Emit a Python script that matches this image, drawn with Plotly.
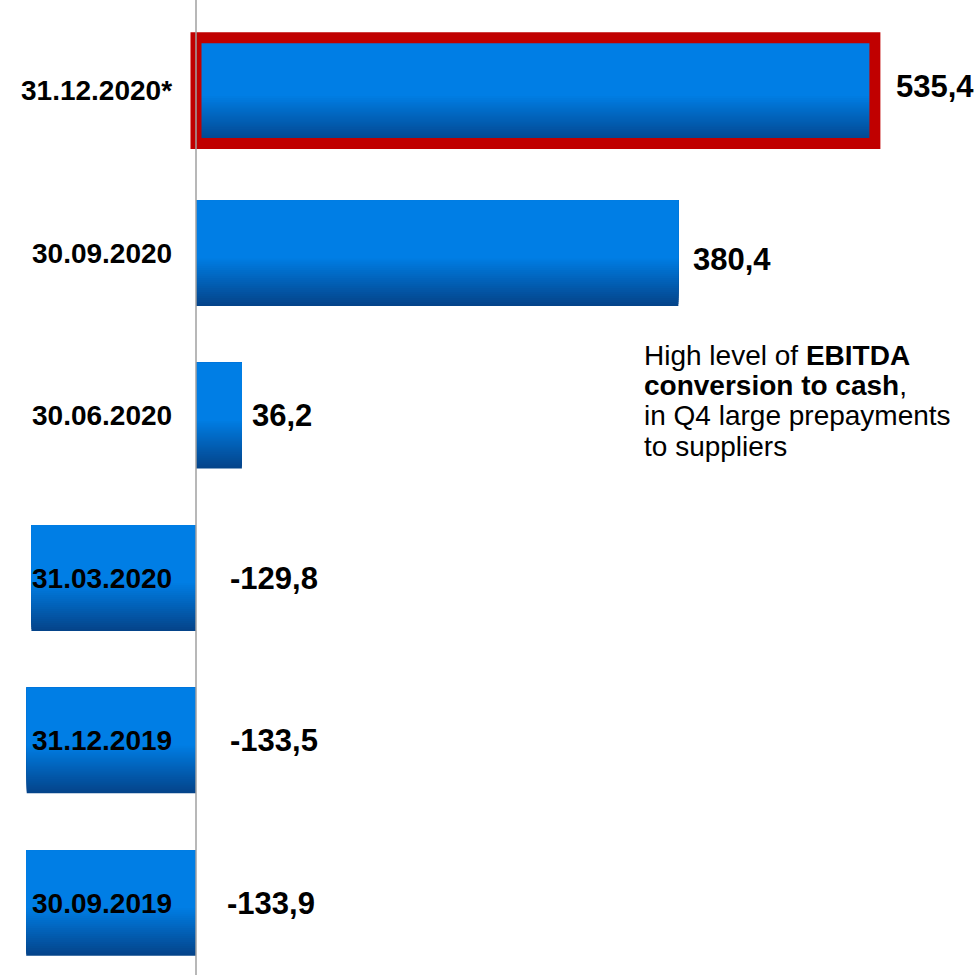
import plotly.graph_objects as go

# Net debt / cash position by quarter (chronological, bottom to top)
periods = ["30.09.2019", "31.12.2019", "31.03.2020", "30.06.2020", "30.09.2020", "31.12.2020*"]
values = [-133.9, -133.5, -129.8, 36.2, 380.4, 535.4]
value_labels = ["-133,9", "-133,5", "-129,8", "36,2", "380,4", "535,4"]
highlight_period = "31.12.2020*"
note_lines = [
    "High level of <b>EBITDA</b>",
    "<b>conversion to cash</b>,",
    "in Q4 large prepayments",
    "to suppliers",
]

W, H = 977, 975
FONT = "Arial, Liberation Sans, sans-serif"
BAR_W = 0.65
TOP_RGB = (0, 126, 229)
BOT_RGB = (4, 68, 138)
GRAD_PART = 0.45   # lower share of each bar that fades to dark
N_STRIPS = 24

# axis ranges: zero line at 196 px, 1.268 px per unit
X_MIN, X_MAX = -154.57, 615.93
Y_MIN, Y_MAX = -0.443, 5.558

fig = go.Figure()

# vertical gradient built from overlaid bar slices, dark at the bottom
for k in range(N_STRIPS + 1):
    t = k / N_STRIPS
    rgb = tuple(round(b + (a - b) * t) for a, b in zip(TOP_RGB, BOT_RGB))
    start = -BAR_W / 2 + GRAD_PART * BAR_W * t
    fig.add_trace(go.Bar(
        y=periods, x=values, orientation="h",
        offset=start, width=BAR_W / 2 - start,
        marker=dict(color="rgb(%d,%d,%d)" % rgb, line=dict(width=0)),
        hoverinfo="skip", showlegend=False,
    ))

# red frame around the latest period
hi = periods.index(highlight_period)
fig.add_trace(go.Bar(
    y=[periods[hi]], x=[values[hi]], orientation="h", width=BAR_W,
    marker=dict(color="rgba(0,0,0,0)", line=dict(color="#C00000", width=11)),
    hoverinfo="skip", showlegend=False,
))

annotations = []
# period labels, right-aligned left of the zero line
for p in periods:
    annotations.append(dict(
        x=174 / W, xref="paper", y=p, yref="y", xanchor="right", yanchor="middle",
        text="<b>%s</b>" % p, showarrow=False,
        font=dict(family=FONT, size=28, color="black"),
    ))

# value labels
x_shifts = [29, 32, 32, 8, 13, 19]
y_shifts = [0, 0, 0, 0, -6, 4]
for p, v, lab, xs, ys in zip(periods, values, value_labels, x_shifts, y_shifts):
    annotations.append(dict(
        x=v if v > 0 else 0, xref="x", y=p, yref="y",
        xanchor="left", yanchor="middle", xshift=xs, yshift=ys,
        text="<b>%s</b>" % lab, showarrow=False,
        font=dict(family=FONT, size=31, color="black"),
    ))

# commentary block
for i, line in enumerate(note_lines):
    annotations.append(dict(
        x=642 / W, xref="paper", y=1 - (355 + 30.4 * i) / H, yref="paper",
        xanchor="left", yanchor="middle", text=line, showarrow=False,
        font=dict(family=FONT, size=28, color="black"),
    ))

fig.update_layout(
    width=W, height=H,
    margin=dict(l=0, r=0, t=0, b=0),
    paper_bgcolor="white", plot_bgcolor="white",
    barmode="overlay", showlegend=False,
    xaxis=dict(range=[X_MIN, X_MAX], visible=False, fixedrange=True),
    yaxis=dict(type="category", categoryorder="array", categoryarray=periods,
               range=[Y_MIN, Y_MAX], visible=False, fixedrange=True),
    annotations=annotations,
    shapes=[dict(type="line", xref="x", yref="paper", x0=0, x1=0, y0=0, y1=1,
                 line=dict(color="#A0A0A0", width=1.5), layer="above")],
)

fig.write_html("out.html", config={"displayModeBar": False})
